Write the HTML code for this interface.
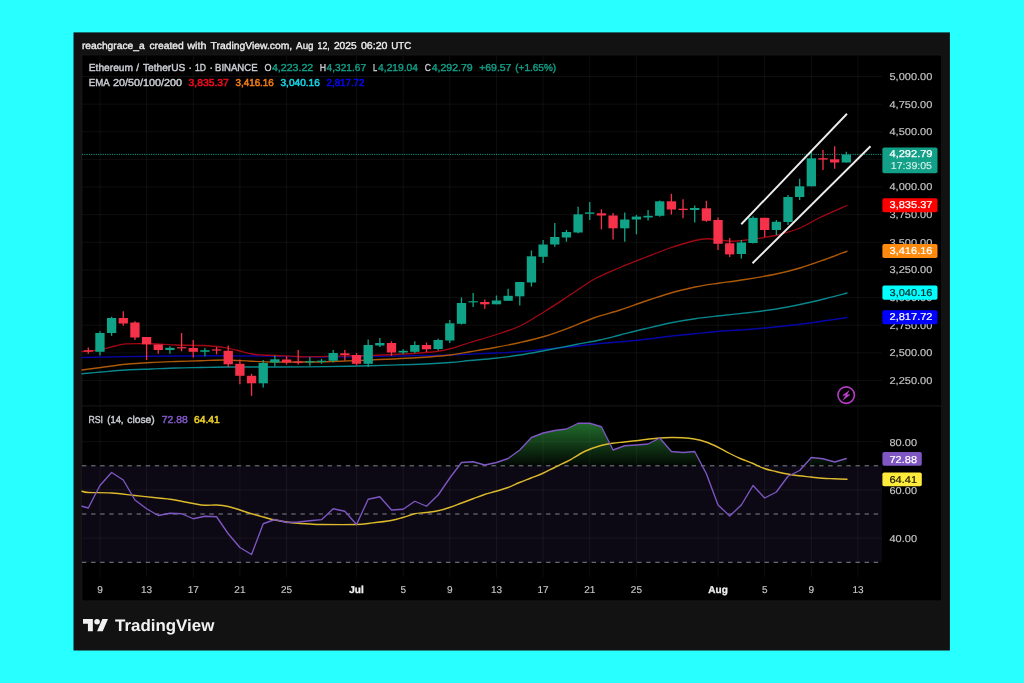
<!DOCTYPE html>
<html lang="en"><head><meta charset="utf-8"><title>ETHUSDT chart</title>
<style>html,body{margin:0;padding:0;background:#28ffff;overflow:hidden}svg{display:block}text{font-family:"Liberation Sans",sans-serif;text-rendering:geometricPrecision}</style></head><body>
<svg width="1024" height="683" viewBox="0 0 1024 683">
<defs>
<linearGradient id="obg" gradientUnits="userSpaceOnUse" x1="0" y1="420" x2="0" y2="465.8"><stop offset="0" stop-color="#2f9a3e" stop-opacity="0.74"/><stop offset="1" stop-color="#2f9a3e" stop-opacity="0.05"/></linearGradient>
<clipPath id="above70"><rect x="82" y="406" width="800" height="59.8"/></clipPath></defs>
<rect width="1024" height="683" fill="#28ffff"/>
<rect x="73.5" y="32.4" width="876.4" height="618.1" fill="#121212"/>
<rect x="81.5" y="54.7" width="860.5" height="546.5" fill="#1b1b1b"/>
<rect x="82.3" y="55.4" width="859" height="545.1" fill="#000"/>
<rect x="82" y="465.8" width="800" height="96.5" fill="#0c0914"/>
<path d="M82 76.50H882M82 104.14H882M82 131.78H882M82 159.42H882M82 187.06H882M82 214.70H882M82 242.34H882M82 269.98H882M82 297.62H882M82 325.26H882M82 352.90H882M82 380.54H882M82 441.70H882M82 489.90H882M82 538.10H882M99.95 56V577M146.60 56V577M193.25 56V577M239.90 56V577M286.54 56V577M356.52 56V577M403.16 56V577M449.81 56V577M496.46 56V577M543.11 56V577M589.76 56V577M636.40 56V577M718.04 56V577M764.69 56V577M811.33 56V577M857.98 56V577" stroke="#ffffff" stroke-opacity="0.055" stroke-width="1" fill="none"/>
<path d="M82 405.9H941" stroke="#151515" stroke-width="1.3" fill="none"/>
<path d="M82.00 506.25 L88.29 508.00 L99.95 485.50 L111.61 472.50 L123.28 480.00 L134.94 500.00 L146.60 508.75 L158.26 515.50 L169.92 513.25 L181.59 513.75 L193.25 518.75 L204.91 516.25 L216.57 516.75 L228.23 533.75 L239.90 547.50 L251.56 554.50 L263.22 523.75 L274.88 519.50 L286.54 522.50 L298.21 522.00 L309.87 520.75 L321.53 519.70 L333.19 508.75 L344.85 511.25 L356.52 524.50 L368.18 499.25 L379.84 496.75 L391.50 510.00 L403.16 509.25 L414.83 501.25 L426.49 506.25 L438.15 495.00 L449.81 478.00 L461.47 462.50 L473.14 461.75 L484.80 465.00 L496.46 462.50 L508.12 458.50 L519.78 450.00 L531.45 437.50 L543.11 433.00 L554.77 430.50 L566.43 429.00 L578.09 423.25 L589.76 423.25 L601.42 426.75 L613.08 450.00 L624.74 445.75 L636.40 445.00 L648.07 444.00 L659.73 438.00 L671.39 451.50 L683.05 452.50 L694.71 451.50 L706.38 473.75 L718.04 505.00 L729.70 516.00 L741.36 505.00 L753.02 485.50 L764.69 498.00 L776.35 492.00 L788.01 476.25 L799.67 470.50 L811.33 457.50 L823.00 458.75 L834.66 462.00 L846.32 458.50 L846.32 465.8 L82 465.8Z" fill="url(#obg)" clip-path="url(#above70)"/>
<path d="M82 465.8H882M82 514H882M82 562.3H882" stroke="#83848f" stroke-width="1" stroke-dasharray="4.4 4.7" fill="none"/>
<path d="M82.00 357.50 C93.50 357.29 127.00 356.54 151.00 356.25 C175.00 355.96 205.17 355.75 226.00 355.75 C246.83 355.75 259.33 356.04 276.00 356.25 C292.67 356.46 310.33 356.96 326.00 357.00 C341.67 357.04 354.33 356.75 370.00 356.50 C385.67 356.25 406.67 355.75 420.00 355.50 C433.33 355.25 437.50 355.42 450.00 355.00 C462.50 354.58 483.33 353.54 495.00 353.00 C506.67 352.46 511.67 352.38 520.00 351.75 C528.33 351.12 535.67 350.17 545.00 349.25 C554.33 348.33 566.83 347.21 576.00 346.25 C585.17 345.29 589.33 344.54 600.00 343.50 C610.67 342.46 628.33 341.21 640.00 340.00 C651.67 338.79 660.83 337.29 670.00 336.25 C679.17 335.21 686.67 334.58 695.00 333.75 C703.33 332.92 710.83 332.00 720.00 331.25 C729.17 330.50 740.83 329.96 750.00 329.25 C759.17 328.54 766.67 327.83 775.00 327.00 C783.33 326.17 791.67 325.29 800.00 324.25 C808.33 323.21 817.17 321.88 825.00 320.75 C832.83 319.62 843.33 318.04 847.00 317.50" stroke="#0606a8" stroke-width="1.4" fill="none" stroke-linejoin="round" stroke-linecap="round"/>
<path d="M82.00 373.75 C85.17 373.46 93.67 372.62 101.00 372.00 C108.33 371.38 117.67 370.50 126.00 370.00 C134.33 369.50 142.67 369.33 151.00 369.00 C159.33 368.67 167.67 368.25 176.00 368.00 C184.33 367.75 192.67 367.67 201.00 367.50 C209.33 367.33 217.67 367.08 226.00 367.00 C234.33 366.92 242.67 367.00 251.00 367.00 C259.33 367.00 263.50 367.07 276.00 367.00 C288.50 366.93 310.33 366.81 326.00 366.60 C341.67 366.39 354.33 366.14 370.00 365.75 C385.67 365.36 406.67 364.79 420.00 364.25 C433.33 363.71 441.67 363.12 450.00 362.50 C458.33 361.88 462.50 361.21 470.00 360.50 C477.50 359.79 486.67 359.17 495.00 358.25 C503.33 357.33 511.67 356.29 520.00 355.00 C528.33 353.71 535.67 352.25 545.00 350.50 C554.33 348.75 566.83 346.25 576.00 344.50 C585.17 342.75 592.67 341.58 600.00 340.00 C607.33 338.42 612.50 336.88 620.00 335.00 C627.50 333.12 636.67 330.75 645.00 328.75 C653.33 326.75 661.67 324.67 670.00 323.00 C678.33 321.33 686.67 319.96 695.00 318.75 C703.33 317.54 710.83 316.79 720.00 315.75 C729.17 314.71 740.83 313.58 750.00 312.50 C759.17 311.42 766.67 310.58 775.00 309.25 C783.33 307.92 791.67 306.25 800.00 304.50 C808.33 302.75 817.17 300.67 825.00 298.75 C832.83 296.83 843.33 293.96 847.00 293.00" stroke="#08868c" stroke-width="1.35" fill="none" stroke-linejoin="round" stroke-linecap="round"/>
<path d="M82.00 370.00 C85.17 369.58 93.67 368.46 101.00 367.50 C108.33 366.54 117.67 365.08 126.00 364.25 C134.33 363.42 142.67 362.96 151.00 362.50 C159.33 362.04 167.67 361.79 176.00 361.50 C184.33 361.21 192.67 361.00 201.00 360.75 C209.33 360.50 217.67 359.92 226.00 360.00 C234.33 360.08 242.67 360.92 251.00 361.25 C259.33 361.58 267.67 361.88 276.00 362.00 C284.33 362.12 292.67 362.04 301.00 362.00 C309.33 361.96 314.50 362.08 326.00 361.75 C337.50 361.42 354.33 360.71 370.00 360.00 C385.67 359.29 406.67 358.33 420.00 357.50 C433.33 356.67 441.67 355.96 450.00 355.00 C458.33 354.04 462.50 353.00 470.00 351.75 C477.50 350.50 486.67 349.04 495.00 347.50 C503.33 345.96 511.67 344.38 520.00 342.50 C528.33 340.62 536.67 338.75 545.00 336.25 C553.33 333.75 561.67 330.62 570.00 327.50 C578.33 324.38 586.67 320.42 595.00 317.50 C603.33 314.58 611.67 312.71 620.00 310.00 C628.33 307.29 636.67 304.04 645.00 301.25 C653.33 298.46 661.67 295.62 670.00 293.25 C678.33 290.88 688.75 288.43 695.00 287.00 C701.25 285.57 703.33 285.37 707.50 284.70 C711.67 284.03 713.75 283.87 720.00 283.00 C726.25 282.13 735.83 280.96 745.00 279.50 C754.17 278.04 765.83 276.17 775.00 274.25 C784.17 272.33 791.67 270.46 800.00 268.00 C808.33 265.54 817.17 262.29 825.00 259.50 C832.83 256.71 843.33 252.62 847.00 251.25" stroke="#ac5808" stroke-width="1.35" fill="none" stroke-linejoin="round" stroke-linecap="round"/>
<path d="M82.00 351.50 C84.17 351.33 91.21 350.96 95.00 350.50 C98.79 350.04 101.42 349.50 104.75 348.75 C108.08 348.00 111.46 346.81 115.00 346.00 C118.54 345.19 120.00 344.27 126.00 343.90 C132.00 343.52 142.67 343.57 151.00 343.75 C159.33 343.93 167.67 344.71 176.00 345.00 C184.33 345.29 193.50 345.17 201.00 345.50 C208.50 345.83 215.17 346.25 221.00 347.00 C226.83 347.75 231.00 348.88 236.00 350.00 C241.00 351.12 246.67 352.92 251.00 353.75 C255.33 354.58 257.83 354.71 262.00 355.00 C266.17 355.29 269.50 355.21 276.00 355.50 C282.50 355.79 293.67 356.57 301.00 356.75 C308.33 356.93 312.67 356.74 320.00 356.60 C327.33 356.46 336.67 356.08 345.00 355.90 C353.33 355.72 361.67 355.73 370.00 355.50 C378.33 355.27 386.67 354.92 395.00 354.50 C403.33 354.08 412.92 353.54 420.00 353.00 C427.08 352.46 432.50 351.96 437.50 351.25 C442.50 350.54 444.58 350.21 450.00 348.75 C455.42 347.29 462.50 344.79 470.00 342.50 C477.50 340.21 486.67 337.75 495.00 335.00 C503.33 332.25 511.67 329.96 520.00 326.00 C528.33 322.04 536.67 316.42 545.00 311.25 C553.33 306.08 561.67 300.42 570.00 295.00 C578.33 289.58 586.67 283.33 595.00 278.75 C603.33 274.17 611.67 271.04 620.00 267.50 C628.33 263.96 636.67 260.75 645.00 257.50 C653.33 254.25 661.67 250.83 670.00 248.00 C678.33 245.17 688.75 242.04 695.00 240.50 C701.25 238.96 703.33 238.83 707.50 238.75 C711.67 238.67 715.83 239.58 720.00 240.00 C724.17 240.42 728.33 241.22 732.50 241.25 C736.67 241.28 740.83 240.66 745.00 240.20 C749.17 239.74 752.08 239.37 757.50 238.50 C762.92 237.63 770.42 236.75 777.50 235.00 C784.58 233.25 792.92 230.92 800.00 228.00 C807.08 225.08 812.17 221.25 820.00 217.50 C827.83 213.75 842.50 207.50 847.00 205.50" stroke="#a00814" stroke-width="1.3" fill="none" stroke-linejoin="round" stroke-linecap="round"/>
<path d="M82 154.4H882" stroke="#129a80" stroke-width="1" stroke-dasharray="1.15 1.15" fill="none"/>
<path d="M88.29 347.50V353.80" stroke="#f5324a" stroke-width="1.3"/>
<rect x="83.64" y="350.30" width="9.3" height="1.40" fill="#f5324a"/>
<path d="M99.95 331.30V355.50" stroke="#10a387" stroke-width="1.3"/>
<rect x="95.30" y="333.00" width="9.3" height="18.80" fill="#10a387"/>
<path d="M111.61 316.80V335.80" stroke="#10a387" stroke-width="1.3"/>
<rect x="106.96" y="318.00" width="9.3" height="15.00" fill="#10a387"/>
<path d="M123.28 311.30V325.80" stroke="#f5324a" stroke-width="1.3"/>
<rect x="118.63" y="318.00" width="9.3" height="5.50" fill="#f5324a"/>
<path d="M134.94 321.30V340.00" stroke="#f5324a" stroke-width="1.3"/>
<rect x="130.29" y="322.50" width="9.3" height="15.00" fill="#f5324a"/>
<path d="M146.60 337.00V360.00" stroke="#f5324a" stroke-width="1.3"/>
<rect x="141.95" y="337.00" width="9.3" height="7.30" fill="#f5324a"/>
<path d="M158.26 344.50V353.80" stroke="#f5324a" stroke-width="1.3"/>
<rect x="153.61" y="344.50" width="9.3" height="5.50" fill="#f5324a"/>
<path d="M169.92 346.30V353.80" stroke="#10a387" stroke-width="1.3"/>
<rect x="165.27" y="347.80" width="9.3" height="2.20" fill="#10a387"/>
<path d="M181.59 333.00V351.30" stroke="#f5324a" stroke-width="1.3"/>
<rect x="176.94" y="347.20" width="9.3" height="1.20" fill="#f5324a"/>
<path d="M193.25 340.00V357.50" stroke="#f5324a" stroke-width="1.3"/>
<rect x="188.60" y="348.00" width="9.3" height="3.80" fill="#f5324a"/>
<path d="M204.91 348.00V356.30" stroke="#10a387" stroke-width="1.3"/>
<rect x="200.26" y="350.20" width="9.3" height="1.60" fill="#10a387"/>
<path d="M216.57 347.00V354.30" stroke="#f5324a" stroke-width="1.3"/>
<rect x="211.92" y="349.40" width="9.3" height="1.20" fill="#f5324a"/>
<path d="M228.23 345.50V367.00" stroke="#f5324a" stroke-width="1.3"/>
<rect x="223.58" y="350.80" width="9.3" height="13.50" fill="#f5324a"/>
<path d="M239.90 359.50V384.30" stroke="#f5324a" stroke-width="1.3"/>
<rect x="235.25" y="363.80" width="9.3" height="12.00" fill="#f5324a"/>
<path d="M251.56 373.80V395.80" stroke="#f5324a" stroke-width="1.3"/>
<rect x="246.91" y="375.80" width="9.3" height="7.50" fill="#f5324a"/>
<path d="M263.22 360.00V387.50" stroke="#10a387" stroke-width="1.3"/>
<rect x="258.57" y="363.00" width="9.3" height="20.30" fill="#10a387"/>
<path d="M274.88 355.50V366.30" stroke="#10a387" stroke-width="1.3"/>
<rect x="270.23" y="359.30" width="9.3" height="3.20" fill="#10a387"/>
<path d="M286.54 356.30V364.50" stroke="#f5324a" stroke-width="1.3"/>
<rect x="281.89" y="359.50" width="9.3" height="3.00" fill="#f5324a"/>
<path d="M298.21 350.00V364.50" stroke="#f5324a" stroke-width="1.3"/>
<rect x="293.56" y="361.50" width="9.3" height="1.30" fill="#f5324a"/>
<path d="M309.87 357.00V365.80" stroke="#10a387" stroke-width="1.3"/>
<rect x="305.22" y="361.20" width="9.3" height="1.20" fill="#10a387"/>
<path d="M321.53 358.80V363.80" stroke="#10a387" stroke-width="1.3"/>
<rect x="316.88" y="360.70" width="9.3" height="1.20" fill="#10a387"/>
<path d="M333.19 350.00V362.50" stroke="#10a387" stroke-width="1.3"/>
<rect x="328.54" y="353.00" width="9.3" height="7.80" fill="#10a387"/>
<path d="M344.85 350.00V360.80" stroke="#f5324a" stroke-width="1.3"/>
<rect x="340.20" y="353.30" width="9.3" height="1.70" fill="#f5324a"/>
<path d="M356.52 353.00V365.50" stroke="#f5324a" stroke-width="1.3"/>
<rect x="351.87" y="355.00" width="9.3" height="8.80" fill="#f5324a"/>
<path d="M368.18 339.50V367.00" stroke="#10a387" stroke-width="1.3"/>
<rect x="363.53" y="345.00" width="9.3" height="18.80" fill="#10a387"/>
<path d="M379.84 338.00V347.00" stroke="#10a387" stroke-width="1.3"/>
<rect x="375.19" y="343.00" width="9.3" height="2.50" fill="#10a387"/>
<path d="M391.50 341.30V355.80" stroke="#f5324a" stroke-width="1.3"/>
<rect x="386.85" y="343.00" width="9.3" height="9.50" fill="#f5324a"/>
<path d="M403.16 349.30V354.30" stroke="#10a387" stroke-width="1.3"/>
<rect x="398.51" y="350.80" width="9.3" height="1.70" fill="#10a387"/>
<path d="M414.83 341.30V353.00" stroke="#10a387" stroke-width="1.3"/>
<rect x="410.18" y="345.00" width="9.3" height="6.80" fill="#10a387"/>
<path d="M426.49 342.50V352.00" stroke="#f5324a" stroke-width="1.3"/>
<rect x="421.84" y="345.00" width="9.3" height="4.30" fill="#f5324a"/>
<path d="M438.15 338.80V350.50" stroke="#10a387" stroke-width="1.3"/>
<rect x="433.50" y="340.00" width="9.3" height="9.00" fill="#10a387"/>
<path d="M449.81 320.00V343.00" stroke="#10a387" stroke-width="1.3"/>
<rect x="445.16" y="323.30" width="9.3" height="17.20" fill="#10a387"/>
<path d="M461.47 297.50V324.50" stroke="#10a387" stroke-width="1.3"/>
<rect x="456.82" y="303.00" width="9.3" height="20.80" fill="#10a387"/>
<path d="M473.14 293.00V307.00" stroke="#10a387" stroke-width="1.3"/>
<rect x="468.49" y="301.20" width="9.3" height="1.20" fill="#10a387"/>
<path d="M484.80 299.50V308.80" stroke="#f5324a" stroke-width="1.3"/>
<rect x="480.15" y="302.00" width="9.3" height="2.30" fill="#f5324a"/>
<path d="M496.46 295.50V304.30" stroke="#10a387" stroke-width="1.3"/>
<rect x="491.81" y="300.50" width="9.3" height="3.80" fill="#10a387"/>
<path d="M508.12 288.80V300.80" stroke="#10a387" stroke-width="1.3"/>
<rect x="503.47" y="295.80" width="9.3" height="5.00" fill="#10a387"/>
<path d="M519.78 282.00V305.50" stroke="#10a387" stroke-width="1.3"/>
<rect x="515.13" y="282.00" width="9.3" height="14.30" fill="#10a387"/>
<path d="M531.45 250.50V286.50" stroke="#10a387" stroke-width="1.3"/>
<rect x="526.80" y="256.30" width="9.3" height="26.20" fill="#10a387"/>
<path d="M543.11 240.00V263.00" stroke="#10a387" stroke-width="1.3"/>
<rect x="538.46" y="244.50" width="9.3" height="12.30" fill="#10a387"/>
<path d="M554.77 223.00V246.80" stroke="#10a387" stroke-width="1.3"/>
<rect x="550.12" y="237.00" width="9.3" height="7.50" fill="#10a387"/>
<path d="M566.43 230.00V241.80" stroke="#10a387" stroke-width="1.3"/>
<rect x="561.78" y="232.00" width="9.3" height="5.50" fill="#10a387"/>
<path d="M578.09 206.80V233.30" stroke="#10a387" stroke-width="1.3"/>
<rect x="573.44" y="214.30" width="9.3" height="18.20" fill="#10a387"/>
<path d="M589.76 202.00V220.00" stroke="#10a387" stroke-width="1.3"/>
<rect x="585.11" y="212.40" width="9.3" height="1.40" fill="#10a387"/>
<path d="M601.42 209.30V229.30" stroke="#f5324a" stroke-width="1.3"/>
<rect x="596.77" y="213.30" width="9.3" height="2.20" fill="#f5324a"/>
<path d="M613.08 213.00V239.50" stroke="#f5324a" stroke-width="1.3"/>
<rect x="608.43" y="215.50" width="9.3" height="12.80" fill="#f5324a"/>
<path d="M624.74 212.50V241.80" stroke="#10a387" stroke-width="1.3"/>
<rect x="620.09" y="219.50" width="9.3" height="8.80" fill="#10a387"/>
<path d="M636.40 215.00V234.30" stroke="#10a387" stroke-width="1.3"/>
<rect x="631.75" y="216.60" width="9.3" height="2.90" fill="#10a387"/>
<path d="M648.07 210.00V220.50" stroke="#10a387" stroke-width="1.3"/>
<rect x="643.42" y="215.80" width="9.3" height="1.70" fill="#10a387"/>
<path d="M659.73 200.50V216.80" stroke="#10a387" stroke-width="1.3"/>
<rect x="655.08" y="201.30" width="9.3" height="14.50" fill="#10a387"/>
<path d="M671.39 193.80V214.50" stroke="#f5324a" stroke-width="1.3"/>
<rect x="666.74" y="201.30" width="9.3" height="8.20" fill="#f5324a"/>
<path d="M683.05 199.30V218.30" stroke="#f5324a" stroke-width="1.3"/>
<rect x="678.40" y="208.70" width="9.3" height="1.30" fill="#f5324a"/>
<path d="M694.71 205.50V222.50" stroke="#10a387" stroke-width="1.3"/>
<rect x="690.06" y="208.00" width="9.3" height="2.00" fill="#10a387"/>
<path d="M706.38 200.80V221.80" stroke="#f5324a" stroke-width="1.3"/>
<rect x="701.73" y="208.30" width="9.3" height="12.50" fill="#f5324a"/>
<path d="M718.04 217.50V250.00" stroke="#f5324a" stroke-width="1.3"/>
<rect x="713.39" y="220.00" width="9.3" height="23.80" fill="#f5324a"/>
<path d="M729.70 238.00V257.00" stroke="#f5324a" stroke-width="1.3"/>
<rect x="725.05" y="243.30" width="9.3" height="11.10" fill="#f5324a"/>
<path d="M741.36 240.00V258.50" stroke="#10a387" stroke-width="1.3"/>
<rect x="736.71" y="242.50" width="9.3" height="11.50" fill="#10a387"/>
<path d="M753.02 216.30V243.50" stroke="#10a387" stroke-width="1.3"/>
<rect x="748.37" y="217.80" width="9.3" height="25.20" fill="#10a387"/>
<path d="M764.69 217.80V237.00" stroke="#f5324a" stroke-width="1.3"/>
<rect x="760.04" y="217.80" width="9.3" height="12.20" fill="#f5324a"/>
<path d="M776.35 220.00V235.00" stroke="#10a387" stroke-width="1.3"/>
<rect x="771.70" y="221.80" width="9.3" height="8.20" fill="#10a387"/>
<path d="M788.01 195.00V225.00" stroke="#10a387" stroke-width="1.3"/>
<rect x="783.36" y="197.00" width="9.3" height="25.00" fill="#10a387"/>
<path d="M799.67 178.80V200.00" stroke="#10a387" stroke-width="1.3"/>
<rect x="795.02" y="186.30" width="9.3" height="10.70" fill="#10a387"/>
<path d="M811.33 151.30V186.30" stroke="#10a387" stroke-width="1.3"/>
<rect x="806.68" y="158.30" width="9.3" height="28.00" fill="#10a387"/>
<path d="M823.00 150.00V170.00" stroke="#f5324a" stroke-width="1.3"/>
<rect x="818.35" y="158.20" width="9.3" height="1.40" fill="#f5324a"/>
<path d="M834.66 146.30V168.80" stroke="#f5324a" stroke-width="1.3"/>
<rect x="830.01" y="159.30" width="9.3" height="3.20" fill="#f5324a"/>
<path d="M846.32 151.80V162.50" stroke="#10a387" stroke-width="1.3"/>
<rect x="841.67" y="154.50" width="9.3" height="8.00" fill="#10a387"/>
<path d="M741.25 224.25L847 113.75M752.5 263.25L870.5 146.25" stroke="#ececec" stroke-width="1.9" stroke-linecap="butt" fill="none"/>
<path d="M82.00 491.25 C83.05 491.46 83.38 492.21 88.30 492.50 C93.22 492.79 103.72 492.50 111.50 493.00 C119.28 493.50 127.20 494.67 135.00 495.50 C142.80 496.33 152.47 497.38 158.30 498.00 C164.13 498.62 166.13 498.71 170.00 499.25 C173.87 499.79 177.62 500.54 181.50 501.25 C185.38 501.96 189.33 502.83 193.25 503.50 C197.17 504.17 201.12 505.00 205.00 505.25 C208.88 505.50 212.62 504.79 216.50 505.00 C220.38 505.21 224.33 505.67 228.25 506.50 C232.17 507.33 236.12 508.79 240.00 510.00 C243.88 511.21 247.62 512.58 251.50 513.75 C255.38 514.92 259.33 515.96 263.25 517.00 C267.17 518.04 271.12 519.17 275.00 520.00 C278.88 520.83 282.62 521.46 286.50 522.00 C290.38 522.54 294.33 522.92 298.25 523.25 C302.17 523.58 306.12 523.79 310.00 524.00 C313.88 524.21 313.75 524.42 321.50 524.50 C329.25 524.58 348.42 524.71 356.50 524.50 C364.58 524.29 364.25 523.92 370.00 523.25 C375.75 522.58 385.50 521.46 391.00 520.50 C396.50 519.54 399.04 518.62 403.00 517.50 C406.96 516.38 410.92 514.58 414.75 513.75 C418.58 512.92 422.12 513.00 426.00 512.50 C429.88 512.00 434.08 511.58 438.00 510.75 C441.92 509.92 445.67 508.75 449.50 507.50 C453.33 506.25 457.08 504.71 461.00 503.25 C464.92 501.79 469.08 500.21 473.00 498.75 C476.92 497.29 480.67 495.75 484.50 494.50 C488.33 493.25 492.08 492.42 496.00 491.25 C499.92 490.08 504.08 488.96 508.00 487.50 C511.92 486.04 515.67 484.08 519.50 482.50 C523.33 480.92 527.08 479.54 531.00 478.00 C534.92 476.46 539.08 475.00 543.00 473.25 C546.92 471.50 550.67 469.38 554.50 467.50 C558.33 465.62 563.00 463.50 566.00 462.00 C569.00 460.50 569.33 460.29 572.50 458.50 C575.67 456.71 580.25 453.42 585.00 451.25 C589.75 449.08 596.38 446.83 601.00 445.50 C605.62 444.17 608.88 443.83 612.75 443.25 C616.62 442.67 620.38 442.42 624.25 442.00 C628.12 441.58 632.12 441.21 636.00 440.75 C639.88 440.29 643.62 439.71 647.50 439.25 C651.38 438.79 655.33 438.29 659.25 438.00 C663.17 437.71 667.12 437.54 671.00 437.50 C674.88 437.46 678.62 437.50 682.50 437.75 C686.38 438.00 690.33 438.29 694.25 439.00 C698.17 439.71 702.12 440.67 706.00 442.00 C709.88 443.33 713.62 445.12 717.50 447.00 C721.38 448.88 725.38 451.29 729.25 453.25 C733.12 455.21 736.88 457.08 740.75 458.75 C744.62 460.42 748.58 461.62 752.50 463.25 C756.42 464.88 760.38 467.12 764.25 468.50 C768.12 469.88 771.88 470.58 775.75 471.50 C779.62 472.42 783.62 473.29 787.50 474.00 C791.38 474.71 795.12 475.25 799.00 475.75 C802.88 476.25 806.83 476.58 810.75 477.00 C814.67 477.42 818.62 477.96 822.50 478.25 C826.38 478.54 829.92 478.58 834.00 478.75 C838.08 478.92 844.83 479.17 847.00 479.25" stroke="#dcba2c" stroke-width="1.4" fill="none" stroke-linejoin="round" stroke-linecap="round"/>
<path d="M82.00 506.25 L88.29 508.00 L99.95 485.50 L111.61 472.50 L123.28 480.00 L134.94 500.00 L146.60 508.75 L158.26 515.50 L169.92 513.25 L181.59 513.75 L193.25 518.75 L204.91 516.25 L216.57 516.75 L228.23 533.75 L239.90 547.50 L251.56 554.50 L263.22 523.75 L274.88 519.50 L286.54 522.50 L298.21 522.00 L309.87 520.75 L321.53 519.70 L333.19 508.75 L344.85 511.25 L356.52 524.50 L368.18 499.25 L379.84 496.75 L391.50 510.00 L403.16 509.25 L414.83 501.25 L426.49 506.25 L438.15 495.00 L449.81 478.00 L461.47 462.50 L473.14 461.75 L484.80 465.00 L496.46 462.50 L508.12 458.50 L519.78 450.00 L531.45 437.50 L543.11 433.00 L554.77 430.50 L566.43 429.00 L578.09 423.25 L589.76 423.25 L601.42 426.75 L613.08 450.00 L624.74 445.75 L636.40 445.00 L648.07 444.00 L659.73 438.00 L671.39 451.50 L683.05 452.50 L694.71 451.50 L706.38 473.75 L718.04 505.00 L729.70 516.00 L741.36 505.00 L753.02 485.50 L764.69 498.00 L776.35 492.00 L788.01 476.25 L799.67 470.50 L811.33 457.50 L823.00 458.75 L834.66 462.00 L846.32 458.50" stroke="#7e57c2" stroke-width="1.35" fill="none" stroke-linejoin="round" stroke-linecap="round"/>
<circle cx="846.2" cy="395.1" r="8.25" fill="none" stroke="#b83cc8" stroke-width="1.6"/>
<path d="M849 390.8 L842.8 395.35 L845.9 395.35 L843.4 399.8 L849.9 394.75 L846.8 394.75Z" fill="#c040d0" stroke="#c040d0" stroke-width="0.5" stroke-linejoin="round"/>
<text y="49.10" font-size="10.1" fill="#ececec" stroke="#ececec" stroke-width="0.35"><tspan x="81.90" textLength="62.85" lengthAdjust="spacingAndGlyphs">reachgrace_a</tspan> <tspan x="149.40" textLength="34.40" lengthAdjust="spacingAndGlyphs">created</tspan> <tspan x="187.25" textLength="19.25" lengthAdjust="spacingAndGlyphs">with</tspan> <tspan x="210.60" textLength="81.60" lengthAdjust="spacingAndGlyphs">TradingView.com,</tspan> <tspan x="296.10" textLength="17.50" lengthAdjust="spacingAndGlyphs">Aug</tspan> <tspan x="317.50" textLength="12.20" lengthAdjust="spacingAndGlyphs">12,</tspan> <tspan x="333.90" textLength="22.70" lengthAdjust="spacingAndGlyphs">2025</tspan> <tspan x="360.90" textLength="26.60" lengthAdjust="spacingAndGlyphs">06:20</tspan> <tspan x="391.25" textLength="20.00" lengthAdjust="spacingAndGlyphs">UTC</tspan></text>
<text y="71.40" font-size="10.1" fill="#cbcdd3" stroke="#cbcdd3" stroke-width="0.42"><tspan x="88.80" textLength="44.20" lengthAdjust="spacingAndGlyphs">Ethereum</tspan> <tspan x="136.30">/</tspan> <tspan x="142.90" textLength="42.50" lengthAdjust="spacingAndGlyphs">TetherUS</tspan> <tspan x="188.60">·</tspan> <tspan x="195.00" textLength="11.00" lengthAdjust="spacingAndGlyphs">1D</tspan> <tspan x="209.40">·</tspan> <tspan x="215.00" textLength="42.60" lengthAdjust="spacingAndGlyphs">BINANCE</tspan></text>
<text x="264.40" y="71.40" font-size="10.1" fill="#cbcdd3" stroke="#cbcdd3" stroke-width="0.35" textLength="7.00" lengthAdjust="spacingAndGlyphs">O</text>
<text x="271.90" y="71.40" font-size="10.1" fill="#12a088" stroke="#12a088" stroke-width="0.35" textLength="41.40" lengthAdjust="spacingAndGlyphs">4,223.22</text>
<text x="319.80" y="71.40" font-size="10.1" fill="#cbcdd3" stroke="#cbcdd3" stroke-width="0.35" textLength="6.30" lengthAdjust="spacingAndGlyphs">H</text>
<text x="326.60" y="71.40" font-size="10.1" fill="#12a088" stroke="#12a088" stroke-width="0.35" textLength="39.50" lengthAdjust="spacingAndGlyphs">4,321.67</text>
<text x="373.10" y="71.40" font-size="10.1" fill="#cbcdd3" stroke="#cbcdd3" stroke-width="0.35" textLength="4.20" lengthAdjust="spacingAndGlyphs">L</text>
<text x="378.10" y="71.40" font-size="10.1" fill="#12a088" stroke="#12a088" stroke-width="0.35" textLength="39.90" lengthAdjust="spacingAndGlyphs">4,219.04</text>
<text x="424.70" y="71.40" font-size="10.1" fill="#cbcdd3" stroke="#cbcdd3" stroke-width="0.35" textLength="6.20" lengthAdjust="spacingAndGlyphs">C</text>
<text x="431.70" y="71.40" font-size="10.1" fill="#12a088" stroke="#12a088" stroke-width="0.35" textLength="41.00" lengthAdjust="spacingAndGlyphs">4,292.79</text>
<text x="479.20" y="71.40" font-size="10.1" fill="#12a088" stroke="#12a088" stroke-width="0.35" textLength="32.20" lengthAdjust="spacingAndGlyphs">+69.57</text>
<text x="515.20" y="71.40" font-size="10.1" fill="#12a088" stroke="#12a088" stroke-width="0.35" textLength="41.00" lengthAdjust="spacingAndGlyphs">(+1.65%)</text>
<text y="85.50" font-size="10.1" fill="#cbcdd3" stroke="#cbcdd3" stroke-width="0.42"><tspan x="88.80" textLength="20.50" lengthAdjust="spacingAndGlyphs">EMA</tspan> <tspan x="113.00" textLength="68.90" lengthAdjust="spacingAndGlyphs">20/50/100/200</tspan></text>
<text x="188.50" y="85.50" font-size="10.1" fill="#ea0a1c" stroke="#ea0a1c" stroke-width="0.55" textLength="40.30" lengthAdjust="spacingAndGlyphs">3,835.37</text>
<text x="235.50" y="85.50" font-size="10.1" fill="#f07a14" stroke="#f07a14" stroke-width="0.55" textLength="38.30" lengthAdjust="spacingAndGlyphs">3,416.16</text>
<text x="280.50" y="85.50" font-size="10.1" fill="#14d2e4" stroke="#14d2e4" stroke-width="0.55" textLength="39.30" lengthAdjust="spacingAndGlyphs">3,040.16</text>
<text x="326.60" y="85.50" font-size="10.1" fill="#0808ea" stroke="#0808ea" stroke-width="0.55" textLength="37.80" lengthAdjust="spacingAndGlyphs">2,817.72</text>
<text y="423.20" font-size="10.1" fill="#cbcdd3" stroke="#cbcdd3" stroke-width="0.42"><tspan x="88.50" textLength="14.50" lengthAdjust="spacingAndGlyphs">RSI</tspan> <tspan x="107.25" textLength="16.25" lengthAdjust="spacingAndGlyphs">(14,</tspan> <tspan x="127.25" textLength="27.50" lengthAdjust="spacingAndGlyphs">close)</tspan></text>
<text x="161.75" y="423.20" font-size="10.1" fill="#7e57c2" stroke="#7e57c2" stroke-width="0.5" textLength="26.00" lengthAdjust="spacingAndGlyphs">72.88</text>
<text x="194.00" y="423.20" font-size="10.1" fill="#f0d22a" stroke="#f0d22a" stroke-width="0.5" textLength="25.75" lengthAdjust="spacingAndGlyphs">64.41</text>
<text x="889.50" y="79.90" font-size="10" fill="#c6c6c6" stroke="#c6c6c6" stroke-width="0.15" textLength="42.80" lengthAdjust="spacingAndGlyphs">5,000.00</text>
<text x="889.50" y="107.54" font-size="10" fill="#c6c6c6" stroke="#c6c6c6" stroke-width="0.15" textLength="42.80" lengthAdjust="spacingAndGlyphs">4,750.00</text>
<text x="889.50" y="135.18" font-size="10" fill="#c6c6c6" stroke="#c6c6c6" stroke-width="0.15" textLength="42.80" lengthAdjust="spacingAndGlyphs">4,500.00</text>
<text x="889.50" y="162.82" font-size="10" fill="#c6c6c6" stroke="#c6c6c6" stroke-width="0.15" textLength="42.80" lengthAdjust="spacingAndGlyphs">4,250.00</text>
<text x="889.50" y="190.46" font-size="10" fill="#c6c6c6" stroke="#c6c6c6" stroke-width="0.15" textLength="42.80" lengthAdjust="spacingAndGlyphs">4,000.00</text>
<text x="889.50" y="218.10" font-size="10" fill="#c6c6c6" stroke="#c6c6c6" stroke-width="0.15" textLength="42.80" lengthAdjust="spacingAndGlyphs">3,750.00</text>
<text x="889.50" y="245.74" font-size="10" fill="#c6c6c6" stroke="#c6c6c6" stroke-width="0.15" textLength="42.80" lengthAdjust="spacingAndGlyphs">3,500.00</text>
<text x="889.50" y="273.38" font-size="10" fill="#c6c6c6" stroke="#c6c6c6" stroke-width="0.15" textLength="42.80" lengthAdjust="spacingAndGlyphs">3,250.00</text>
<text x="889.50" y="301.02" font-size="10" fill="#c6c6c6" stroke="#c6c6c6" stroke-width="0.15" textLength="42.80" lengthAdjust="spacingAndGlyphs">3,000.00</text>
<text x="889.50" y="328.66" font-size="10" fill="#c6c6c6" stroke="#c6c6c6" stroke-width="0.15" textLength="42.80" lengthAdjust="spacingAndGlyphs">2,750.00</text>
<text x="889.50" y="356.30" font-size="10" fill="#c6c6c6" stroke="#c6c6c6" stroke-width="0.15" textLength="42.80" lengthAdjust="spacingAndGlyphs">2,500.00</text>
<text x="889.50" y="383.94" font-size="10" fill="#c6c6c6" stroke="#c6c6c6" stroke-width="0.15" textLength="42.80" lengthAdjust="spacingAndGlyphs">2,250.00</text>
<text x="889.50" y="445.60" font-size="10" fill="#c6c6c6" stroke="#c6c6c6" stroke-width="0.15" textLength="27.50" lengthAdjust="spacingAndGlyphs">80.00</text>
<text x="889.50" y="493.60" font-size="10" fill="#c6c6c6" stroke="#c6c6c6" stroke-width="0.15" textLength="27.50" lengthAdjust="spacingAndGlyphs">60.00</text>
<text x="889.50" y="541.85" font-size="10" fill="#c6c6c6" stroke="#c6c6c6" stroke-width="0.15" textLength="27.50" lengthAdjust="spacingAndGlyphs">40.00</text>
<rect x="882.4" y="147.50" width="55.10" height="25.80" rx="1.8" fill="#12a088"/>
<text x="889.50" y="157.40" font-size="10" fill="#ffffff" stroke="#ffffff" stroke-width="0.25" textLength="43.00" lengthAdjust="spacingAndGlyphs">4,292.79</text>
<text x="890.80" y="169.10" font-size="10" fill="#d8f2ec" stroke="#d8f2ec" stroke-width="0.1" textLength="41.20" lengthAdjust="spacingAndGlyphs">17:39:05</text>
<rect x="882.4" y="198.20" width="55.10" height="14.10" rx="1.8" fill="#ff0000"/>
<text x="889.50" y="208.30" font-size="10" fill="#fff" stroke="#fff" stroke-width="0.22" textLength="43.00" lengthAdjust="spacingAndGlyphs">3,835.37</text>
<rect x="882.4" y="244.00" width="55.10" height="14.10" rx="1.8" fill="#ff8a0d"/>
<text x="889.50" y="254.10" font-size="10" fill="#fff" stroke="#fff" stroke-width="0.22" textLength="43.00" lengthAdjust="spacingAndGlyphs">3,416.16</text>
<rect x="882.4" y="285.60" width="55.10" height="14.10" rx="1.8" fill="#00ffff"/>
<text x="889.50" y="295.70" font-size="10" fill="#0a2a2a" stroke="#0a2a2a" stroke-width="0.22" textLength="43.00" lengthAdjust="spacingAndGlyphs">3,040.16</text>
<rect x="882.4" y="310.20" width="55.10" height="14.10" rx="1.8" fill="#0000ff"/>
<text x="889.50" y="320.30" font-size="10" fill="#fff" stroke="#fff" stroke-width="0.22" textLength="43.00" lengthAdjust="spacingAndGlyphs">2,817.72</text>
<rect x="882.4" y="452.00" width="39.40" height="13.80" rx="1.8" fill="#7e57c2"/>
<text x="889.50" y="462.60" font-size="10" fill="#fff" stroke="#fff" stroke-width="0.22" textLength="27.50" lengthAdjust="spacingAndGlyphs">72.88</text>
<rect x="882.4" y="472.50" width="39.40" height="13.80" rx="1.8" fill="#ffeb3b"/>
<text x="889.50" y="483.00" font-size="10" fill="#1a1a00" stroke="#1a1a00" stroke-width="0.22" textLength="27.50" lengthAdjust="spacingAndGlyphs">64.41</text>
<text x="99.95" y="593.40" font-size="10" fill="#c6c6c6" stroke="#c6c6c6" stroke-width="0.15" text-anchor="middle">9</text>
<text x="146.60" y="593.40" font-size="10" fill="#c6c6c6" stroke="#c6c6c6" stroke-width="0.15" text-anchor="middle">13</text>
<text x="193.25" y="593.40" font-size="10" fill="#c6c6c6" stroke="#c6c6c6" stroke-width="0.15" text-anchor="middle">17</text>
<text x="239.90" y="593.40" font-size="10" fill="#c6c6c6" stroke="#c6c6c6" stroke-width="0.15" text-anchor="middle">21</text>
<text x="286.54" y="593.40" font-size="10" fill="#c6c6c6" stroke="#c6c6c6" stroke-width="0.15" text-anchor="middle">25</text>
<text x="356.52" y="593.40" font-size="10" fill="#efefef" font-weight="bold" stroke="#efefef" stroke-width="0.3" text-anchor="middle">Jul</text>
<text x="403.16" y="593.40" font-size="10" fill="#c6c6c6" stroke="#c6c6c6" stroke-width="0.15" text-anchor="middle">5</text>
<text x="449.81" y="593.40" font-size="10" fill="#c6c6c6" stroke="#c6c6c6" stroke-width="0.15" text-anchor="middle">9</text>
<text x="496.46" y="593.40" font-size="10" fill="#c6c6c6" stroke="#c6c6c6" stroke-width="0.15" text-anchor="middle">13</text>
<text x="543.11" y="593.40" font-size="10" fill="#c6c6c6" stroke="#c6c6c6" stroke-width="0.15" text-anchor="middle">17</text>
<text x="589.76" y="593.40" font-size="10" fill="#c6c6c6" stroke="#c6c6c6" stroke-width="0.15" text-anchor="middle">21</text>
<text x="636.40" y="593.40" font-size="10" fill="#c6c6c6" stroke="#c6c6c6" stroke-width="0.15" text-anchor="middle">25</text>
<text x="718.04" y="593.40" font-size="10" fill="#efefef" font-weight="bold" stroke="#efefef" stroke-width="0.3" text-anchor="middle">Aug</text>
<text x="764.69" y="593.40" font-size="10" fill="#c6c6c6" stroke="#c6c6c6" stroke-width="0.15" text-anchor="middle">5</text>
<text x="811.33" y="593.40" font-size="10" fill="#c6c6c6" stroke="#c6c6c6" stroke-width="0.15" text-anchor="middle">9</text>
<text x="857.98" y="593.40" font-size="10" fill="#c6c6c6" stroke="#c6c6c6" stroke-width="0.15" text-anchor="middle">13</text>
<g transform="translate(83,616.3) scale(0.704,0.678)" fill="#f2f2f2"><path d="M14 22H7V11H0V4h14v18zM28 22h-8l7.5-18h8L28 22z"/><circle cx="20" cy="8" r="4"/></g>
<text x="115.00" y="631.10" font-size="16.6" fill="#f2f2f2" font-weight="bold" textLength="99.30" lengthAdjust="spacingAndGlyphs">TradingView</text>
</svg></body></html>
